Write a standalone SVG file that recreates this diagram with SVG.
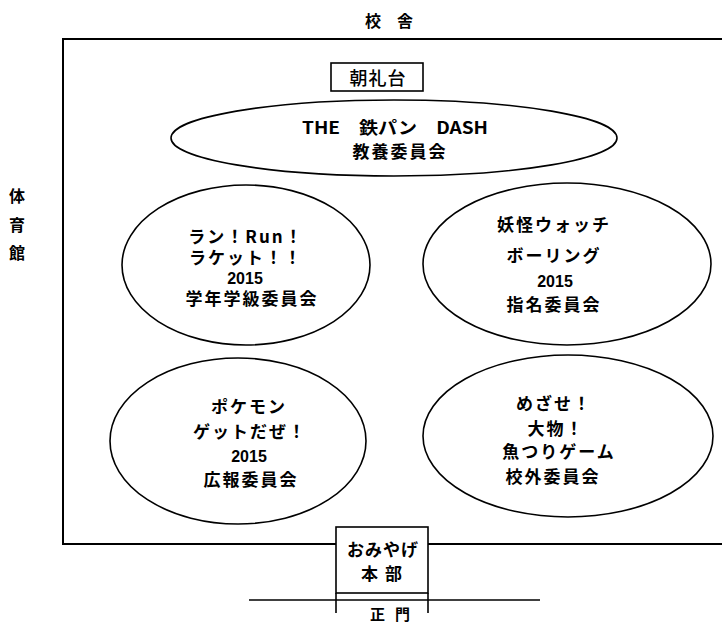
<svg xmlns="http://www.w3.org/2000/svg" width="722" height="624" viewBox="0 0 722 624">
<style>
.bg{fill:#ffffff}
.wall{stroke:#000;stroke-width:2;fill:none;stroke-linecap:square}
.thin{stroke:#000;stroke-width:1.6;fill:none}
.shape{stroke:#000;stroke-width:1.6;fill:#fff}
.j{font-family:"Noto Sans CJK JP","Liberation Sans",sans-serif;font-weight:700;font-size:17px;letter-spacing:2px;fill:#000;text-anchor:middle}
.n{font-family:"Liberation Sans","Noto Sans CJK JP",sans-serif;font-weight:700;font-size:16px;fill:#000;text-anchor:middle}
.lbl{font-family:"Noto Sans CJK JP",sans-serif;font-weight:700;font-size:16px;fill:#000;text-anchor:middle}
.plain{font-family:"Noto Sans CJK JP",sans-serif;font-weight:500;font-size:18px;letter-spacing:1px;fill:#000;text-anchor:middle}
</style>
<rect class="bg" x="0" y="0" width="722" height="624"/>
<g id="site-lines">
<polyline class="wall" points="722,39 63,39 63,544 336,544"/>
<line class="wall" x1="428" y1="544" x2="722" y2="544"/>
<line class="thin" x1="249" y1="600" x2="540" y2="600"/>
<line class="thin" x1="336" y1="593" x2="336" y2="613"/>
<line class="thin" x1="428" y1="593" x2="428" y2="613"/>
</g>
<g id="label-kousha"><text class="lbl" x="389" y="27">校　舎</text></g>
<g id="label-taiikukan">
<text class="lbl" x="17" y="202">体</text>
<text class="lbl" x="17" y="231">育</text>
<text class="lbl" x="17" y="259">館</text>
</g>
<g id="chourei-dai">
<rect class="shape" x="331" y="63" width="92" height="28"/>
<text class="plain" x="378" y="85">朝礼台</text>
</g>
<g id="kyouyou">
<ellipse class="shape" cx="394" cy="138" rx="223" ry="38"/>
<text class="j" x="395" y="134" textLength="186" lengthAdjust="spacingAndGlyphs" style="letter-spacing:0">THE　鉄パン　DASH</text>
<text class="j" x="400" y="158">教養委員会</text>
</g>
<g id="gakunen">
<ellipse class="shape" cx="246" cy="265" rx="124" ry="80"/>
<text class="j" x="246" y="243">ラン！Run！</text>
<text class="j" x="246" y="264">ラケット！！</text>
<text class="n" x="245" y="284">2015</text>
<text class="j" x="252" y="305">学年学級委員会</text>
</g>
<g id="shimei">
<ellipse class="shape" cx="567" cy="264" rx="144" ry="81"/>
<text class="j" x="554" y="231">妖怪ウォッチ</text>
<text class="j" x="554" y="262">ボーリング</text>
<text class="n" x="555" y="287">2015</text>
<text class="j" x="554" y="311">指名委員会</text>
</g>
<g id="kouhou">
<ellipse class="shape" cx="238" cy="441" rx="128" ry="83"/>
<text class="j" x="249" y="413">ポケモン</text>
<text class="j" x="250" y="438">ゲットだぜ！</text>
<text class="n" x="249" y="462">2015</text>
<text class="j" x="251" y="486">広報委員会</text>
</g>
<g id="kougai">
<ellipse class="shape" cx="568" cy="436" rx="145" ry="81"/>
<text class="j" x="554" y="410">めざせ！</text>
<text class="j" x="556" y="435">大物！</text>
<text class="j" x="559" y="458">魚つりゲーム</text>
<text class="j" x="553" y="483">校外委員会</text>
</g>
<g id="omiyage">
<rect class="shape" x="336" y="527" width="92" height="66"/>
<text class="j" x="383" y="556" style="letter-spacing:1px">おみやげ</text>
<text class="j" x="361" y="580" style="letter-spacing:0;text-anchor:start">本<tspan dx="7">部</tspan></text>
</g>
<g id="label-seimon"><text class="lbl" x="370" y="620" style="font-size:15px;text-anchor:start">正<tspan dx="10">門</tspan></text></g>
</svg>
